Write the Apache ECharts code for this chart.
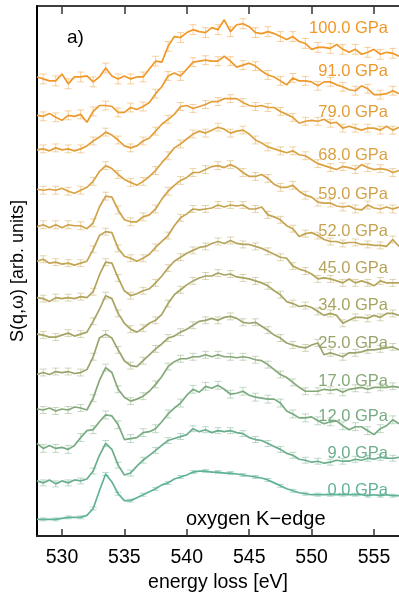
<!DOCTYPE html>
<html>
<head>
<meta charset="utf-8">
<script src="https://cdn.jsdelivr.net/npm/echarts@6/dist/echarts.min.js"></script>
<style>
html,body{margin:0;padding:0;background:#fff;}
#chart{width:399px;height:598px;}
</style>
</head>
<body>
<div id="chart"></div>
<script>
// Energy-loss grid [eV]
const energy = [528,528.5,529,529.5,530,530.5,531,531.5,532,532.5,533,533.5,534,534.5,535,535.5,536,536.5,537,537.5,
  538,538.5,539,539.5,540,540.5,541,541.5,542,542.5,543,543.5,544,544.5,545,545.5,546,546.5,547,547.5,
  548,548.5,549,549.5,550,550.5,551,551.5,552,552.5,553,553.5,554,554.5,555,555.5,556,556.5,557];

// Pressures, vertical offsets of each spectrum, and error-bar half heights (arb. units)
const pressures = ['0.0','9.0','12.0','17.0','25.0','34.0','45.0','52.0','59.0','68.0','79.0','91.0','100.0'];
const offsets = [17,56,92,129,164,205,242,279,314,352,392,427,466];
const errors = [1.5,3,4,3.5,3.5,3.5,3.5,3.5,4,4,4,4.5,5];

// S(q,w) spectra relative to their offsets
const s000 = [0,0,0,0,1,2,2,2,4,11, 29,46,38,26,19,19,22,25,28,31, 35,37,41,43,45,48,49,49,48,48, 47,47,46,45,44,43,42,40,37,34, 31,29,27,26,25,25,25,25,25,25, 25,25,25,24,25,24,25,24,24];
const s009 = [0,-2,1,-3,0,-2,1,0,2,10, 26,38,32,16,6,8,15,21,26,31, 36,41,43,45,47,53,50,52,49,51, 50,51,49,48,44,42,41,38,35,32, 28,26,22,21,19,20,18,19,21,20, 20,22,21,23,22,24,23,23,24];
const s012 = [2,-3,0,-3,-2,-4,0,8,15,16, 24,31,30,21,6,7,8,13,14,17, 24,32,38,43,51,57,54,60,58,61, 57,52,53,55,51,49,48,47,47,43, 35,32,28,28,29,25,22,24,25,20, 16,19,19,15,11,17,20,26,22];
const s017 = [0,-1,1,-2,0,-1,2,1,-1,11, 29,42,37,20,12,8,10,13,18,25, 33,43,48,51,51,53,53,55,53,55, 53,53,52,53,52,50,49,45,40,35, 32,27,22,18,18,18,20,19,20,17, 20,21,22,20,22,22,22,23,22];
const s025 = [0,2,0,3,2,3,1,2,5,18, 37,41,37,25,14,9,8,14,20,26, 31,37,39,43,46,50,54,55,57,55, 58,59,57,53,52,53,49,45,40,37, 32,30,28,27,30,32,20,22,20,18, 22,22,23,25,25,26,27,28,25];
const s034 = [0,-1,-3,-3,-1,1,-2,0,2,13, 25,39,36,21,11,5,2,6,11,14, 20,31,40,45,50,54,57,59,59,62, 60,61,58,57,56,54,52,49,44,40, 33,31,28,29,27,23,19,21,19,11, 14,17,17,16,19,17,21,21,19];
const s045 = [0,-1,-4,0,-1,0,-1,1,0,6, 23,36,35,20,7,2,4,7,9,15, 22,30,37,41,45,48,51,52,55,57, 55,58,55,54,54,52,50,47,44,41, 40,32,29,27,24,19,20,19,17,15, 19,15,17,15,12,17,15,15,15];
const s052 = [0,2,-2,-1,-3,-2,-4,-2,0,12, 26,30,29,13,5,3,0,3,7,14, 20,26,36,44,48,53,52,53,54,57, 55,57,56,57,53,53,55,47,45,42, 36,33,25,28,29,26,22,20,20,18, 19,19,17,17,16,16,15,22,15];
const s059 = [0,2,-1,2,-1,2,1,1,-2,4, 20,31,30,17,7,5,5,10,12,18, 28,36,42,47,50,55,55,58,61,62, 60,63,60,55,51,51,53,49,43,40, 40,42,36,32,30,25,24,24,21,20, 21,18,17,22,19,18,20,18,20];
const s068 = [0,-1,0,-1,1,-2,-4,-1,2,8, 18,24,21,15,10,7,4,8,13,19, 27,34,42,46,51,56,59,57,60,63, 61,57,59,60,56,50,47,43,41,39, 37,39,35,34,30,26,24,22,20,23, 22,20,25,22,20,21,20,17,19];
const s079 = [0,1,-1,2,0,1,-1,1,4,9, 13,18,15,10,4,2,4,9,12,19, 26,31,36,44,45,42,44,46,49,49, 52,52,52,48,45,44,45,43,43,39, 36,33,27,29,30,29,31,27,28,22, 24,22,20,22,22,20,24,20,23];
const s091 = [0,-1,2,-2,-5,0,-1,1,-7,4, 10,10,9,3,3,8,6,9,13,22, 29,40,43,40,47,54,55,56,55,55, 60,55,49,51,53,50,45,41,39,35, 31,38,35,35,34,30,34,34,31,29, 26,25,30,27,21,21,22,25,22];
const s100 = [0,-2,-4,-4,3,-7,0,0,1,-5, 0,9,1,-2,1,-2,0,0,8,16, 15,31,41,40,45,48,46,45,50,48, 58,46,53,54,51,45,44,46,44,41, 38,41,36,34,28,30,30,29,33,28, 25,28,23,25,28,23,25,24,21];

const spectra = [s000,s009,s012,s017,s025,s034,s045,s052,s059,s068,s079,s091,s100];

// Tick positions on the energy axis
const energyTicks = [530,535,540,545,550,555];

// Teal-to-orange pressure palette
const colors = ['#5fb294','#6aae8c','#78ab80','#86a878','#98a56c','#a8a462','#b5a45a',
  '#c4a452','#d0a24a','#dba242','#e49e38','#ec9a2e','#f29726'];

// Label centres (px) for the pressure annotations
const labelY = [490,453,416.5,381,343,305,268.5,231,194,155.5,112.5,71.5,28.5];

const FONT = '"Liberation Sans", Arial, sans-serif';

function hexToRgba(hex, a) {
  const n = parseInt(hex.slice(1), 16);
  return 'rgba(' + ((n >> 16) & 255) + ',' + ((n >> 8) & 255) + ',' + (n & 255) + ',' + a + ')';
}

const series = [];
spectra.forEach(function (sig, i) {
  const line = sig.map(function (v, k) { return [energy[k], offsets[i] + v]; });
  const bars = [];
  for (let k = 1; k < sig.length; k += 2) {
    bars.push([energy[k], offsets[i] + sig[k], errors[i]]);
  }
  const barColor = hexToRgba(colors[i], 0.45);
  series.push({
    type: 'custom',
    data: bars,
    z: 1,
    silent: true,
    renderItem: function (params, api) {
      const x = api.value(0), y = api.value(1), e = api.value(2);
      const t = api.coord([x, y + e]);
      const b = api.coord([x, y - e]);
      const hw = 3.5;
      const st = { stroke: barColor, lineWidth: 1 };
      return {
        type: 'group',
        children: [
          { type: 'line', shape: { x1: t[0], y1: t[1], x2: b[0], y2: b[1] }, style: st },
          { type: 'line', shape: { x1: t[0] - hw, y1: t[1], x2: t[0] + hw, y2: t[1] }, style: st },
          { type: 'line', shape: { x1: b[0] - hw, y1: b[1], x2: b[0] + hw, y2: b[1] }, style: st }
        ]
      };
    }
  });
  series.push({
    type: 'line',
    data: line,
    z: 2,
    showSymbol: false,
    silent: true,
    lineStyle: { color: colors[i], width: 1.7 },
    itemStyle: { color: colors[i] }
  });
});

const graphics = pressures.map(function (p, i) {
  return {
    type: 'text', x: 388, y: labelY[i], z: 10,
    style: { text: p + ' GPa', fill: colors[i], fontSize: 16.5, fontFamily: FONT, align: 'right', verticalAlign: 'middle' }
  };
});
graphics.push({
  type: 'text', x: 67, y: 38, z: 10,
  style: { text: 'a)', fill: '#000', fontSize: 19, fontFamily: FONT, align: 'left', verticalAlign: 'middle' }
});
graphics.push({
  type: 'text', x: 186, y: 519, z: 10,
  style: { text: 'oxygen K\u2212edge', fill: '#000', fontSize: 20, fontFamily: FONT, align: 'left', verticalAlign: 'middle' }
});

const chart = echarts.init(document.getElementById('chart'), null, { renderer: 'canvas' });
chart.setOption({
  animation: false,
  backgroundColor: '#fff',
  grid: { left: 37, right: 0, top: 6, bottom: 54, containLabel: false },
  xAxis: [{
    type: 'value', min: 528, max: 557, position: 'bottom',
    axisLine: { show: true, onZero: false, lineStyle: { color: '#222', width: 2 } },
    axisTick: { show: true, inside: true, length: 7, customValues: energyTicks, lineStyle: { color: '#333', width: 1.5 } },
    axisLabel: { show: true, customValues: energyTicks, fontSize: 19.5, color: '#000', margin: 12, fontFamily: FONT },
    splitLine: { show: false },
    name: 'energy loss [eV]', nameLocation: 'middle', nameGap: 34,
    nameTextStyle: { fontSize: 19.5, color: '#000', fontFamily: FONT }
  }, {
    type: 'value', min: 528, max: 557, position: 'top',
    axisLine: { show: true, onZero: false, lineStyle: { color: '#000', width: 1.5 } },
    axisTick: { show: true, inside: true, length: 8, customValues: energyTicks, lineStyle: { color: '#333', width: 1.5 } },
    axisLabel: { show: false },
    splitLine: { show: false }
  }],
  yAxis: {
    type: 'value', min: 0, max: 538,
    axisLine: { show: true, onZero: false, lineStyle: { color: '#000', width: 2 } },
    axisTick: { show: false },
    axisLabel: { show: false },
    splitLine: { show: false },
    name: 'S(q,\u03c9) [arb. units]', nameLocation: 'middle', nameGap: 10,
    nameTextStyle: { fontSize: 18, color: '#000', fontFamily: FONT }
  },
  series: series,
  graphic: graphics
});
</script>
</body>
</html>
